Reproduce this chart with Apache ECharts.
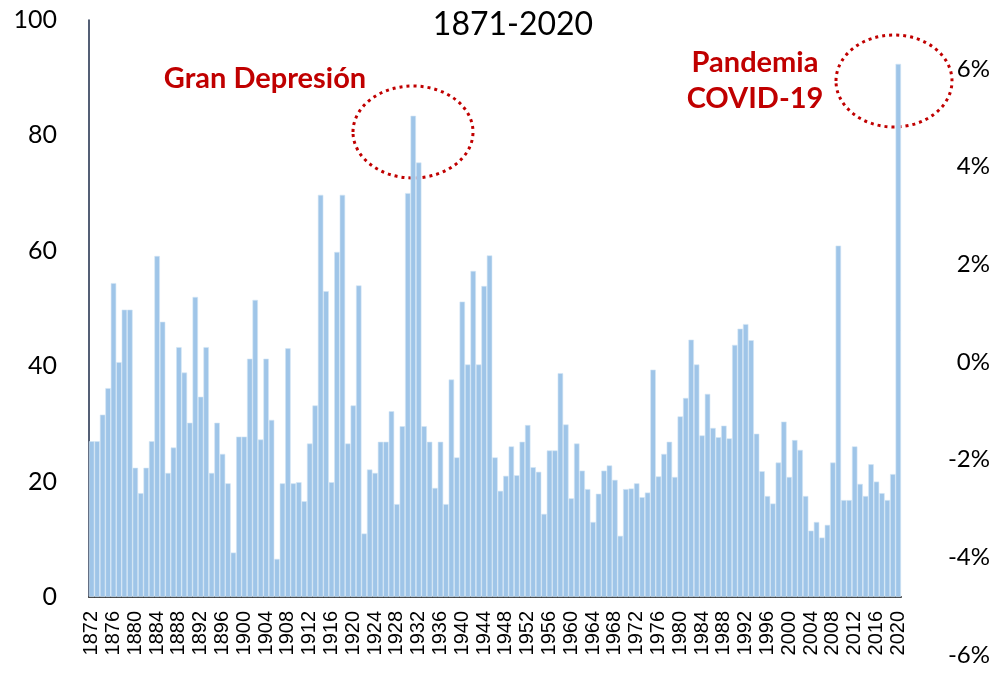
<!DOCTYPE html>
<html>
<head>
<meta charset="utf-8">
<script src="https://cdn.jsdelivr.net/npm/echarts@6/dist/echarts.min.js"></script>
<style>
  html, body { margin: 0; padding: 0; background: #fff; }
  #chart { width: 998px; height: 673px; }
</style>
</head>
<body>
<div id="chart"></div>
<script>
// años 1872-2020, una barra por año
var firstYear = 1872;
var lastYear = 2020;
var years = [];
for (var y = firstYear; y <= lastYear; y++) years.push(String(y));

// valores (eje izquierdo 0-100)
var values1872 = [27.0, 27.0, 31.6, 36.2, 54.4, 40.7, 49.8, 49.8, 22.4, 18.0,
                  22.4, 27.0, 59.1, 47.7, 21.5, 25.9, 43.3, 38.9, 30.2, 52.0,
                  34.7, 43.3, 21.5, 30.2, 24.8, 19.7, 7.7, 27.8, 27.8, 41.3,
                  51.5, 27.3, 41.3, 30.7, 6.6, 19.7, 43.1, 19.7];
var values1910 = [19.9, 16.6, 26.6, 33.2, 69.7, 53.0, 19.9, 59.8, 69.7, 26.6,
                  33.2, 54.0, 11.0, 22.1, 21.5, 26.9, 26.9, 32.2, 16.1, 29.6,
                  70.0, 83.4, 75.3, 29.6, 26.9, 18.9, 26.9, 16.1, 37.7, 24.2,
                  51.2, 40.3, 56.5, 40.3, 53.9, 59.2, 24.2, 18.4, 21.0, 26.1];
var values1950 = [21.1, 26.9, 29.8, 22.5, 21.7, 14.4, 25.4, 25.4, 38.8, 29.9,
                  17.1, 26.6, 21.9, 18.7, 13.0, 17.9, 21.9, 22.8, 20.3, 10.6,
                  18.7, 18.8, 19.7, 17.3, 18.1, 39.4, 20.9, 24.8, 26.9, 20.8,
                  31.3, 34.5, 44.6, 40.3];
var values1984 = [28.0, 35.2, 29.3, 27.7, 29.7, 27.5, 43.7, 46.5, 47.3, 44.5,
                  28.3, 21.8, 17.5, 16.2, 23.3, 30.4, 20.8, 27.2, 25.5, 17.5,
                  11.5, 13.0, 10.3, 12.5, 23.3, 60.9, 16.8, 16.8, 26.1, 19.6,
                  17.5, 23.0, 20.0, 18.0, 16.8, 21.3, 92.4];
var values = values1872.concat(values1910, values1950, values1984);

var titleText = '1871-2020';
var noteDepresion = 'Gran Depresión';
var notePandemia = ['Pandemia', 'COVID-19'];

var chart = echarts.init(document.getElementById('chart'));
var option = {
    animation: false,
    textStyle: { fontFamily: 'Lato' },
    title: {
        text: titleText,
        left: 508, top: 4, textAlign: 'center',
        textStyle: { fontSize: 32, fontWeight: 'normal', color: '#000', fontFamily: 'Lato' }
    },
    grid: [
        { left: 89, right: 97, top: 20, bottom: 76 },
        { left: 89, right: 97, top: 69, bottom: 18 }
    ],
    xAxis: [{
        type: 'category',
        gridIndex: 0,
        data: years,
        axisLine: { lineStyle: { color: '#3a3a3a', width: 2 } },
        axisTick: { show: false },
        axisLabel: {
            interval: 3, rotate: 90, margin: 14,
            showMinLabel: true, showMaxLabel: true, hideOverlap: false,
            fontSize: 20, lineHeight: 20, color: '#000', fontFamily: 'Liberation Sans'
        }
    }, {
        type: 'category',
        gridIndex: 1,
        data: years,
        show: false
    }],
    yAxis: [{
        type: 'value',
        gridIndex: 0,
        min: 0, max: 100, interval: 20,
        axisLine: { show: true, lineStyle: { color: '#1b2a47', width: 1.5 } },
        axisTick: { show: false },
        splitLine: { show: false },
        axisLabel: { fontSize: 25, color: '#000', margin: 32, fontFamily: 'Lato' }
    }, {
        type: 'value',
        gridIndex: 1,
        position: 'right',
        min: -6, max: 6, interval: 2,
        axisLine: { show: false },
        axisTick: { show: false },
        splitLine: { show: false },
        axisLabel: {
            formatter: '{value}%', align: 'right', margin: 89,
            fontSize: 24, color: '#000', fontFamily: 'Lato'
        }
    }],
    series: [{
        type: 'bar',
        data: values,
        xAxisIndex: 0, yAxisIndex: 0,
        barCategoryGap: '0%',
        itemStyle: { color: '#9fc5e8', borderColor: '#d4e5f5', borderWidth: 0.6 }
    }],
    graphic: [
        {
            type: 'text', x: 265, y: 79,
            style: { text: noteDepresion, fontSize: 29, fontWeight: 'bold', fill: '#c00000',
                     fontFamily: 'Lato', align: 'center', verticalAlign: 'middle' }
        },
        {
            type: 'text', x: 755, y: 81,
            style: { text: notePandemia.join('\n'), fontSize: 29, lineHeight: 36, fontWeight: 'bold',
                     fill: '#c00000', fontFamily: 'Lato', align: 'center', verticalAlign: 'middle' }
        },
        {
            type: 'ellipse',
            shape: { cx: 413, cy: 132, rx: 60, ry: 46 },
            style: { fill: 'none', stroke: '#c00000', lineWidth: 3, lineDash: [3, 4] }
        },
        {
            type: 'ellipse',
            shape: { cx: 894, cy: 81, rx: 58, ry: 46 },
            style: { fill: 'none', stroke: '#c00000', lineWidth: 3, lineDash: [3, 4] }
        }
    ]
};
chart.setOption(option);
</script>
</body>
</html>
